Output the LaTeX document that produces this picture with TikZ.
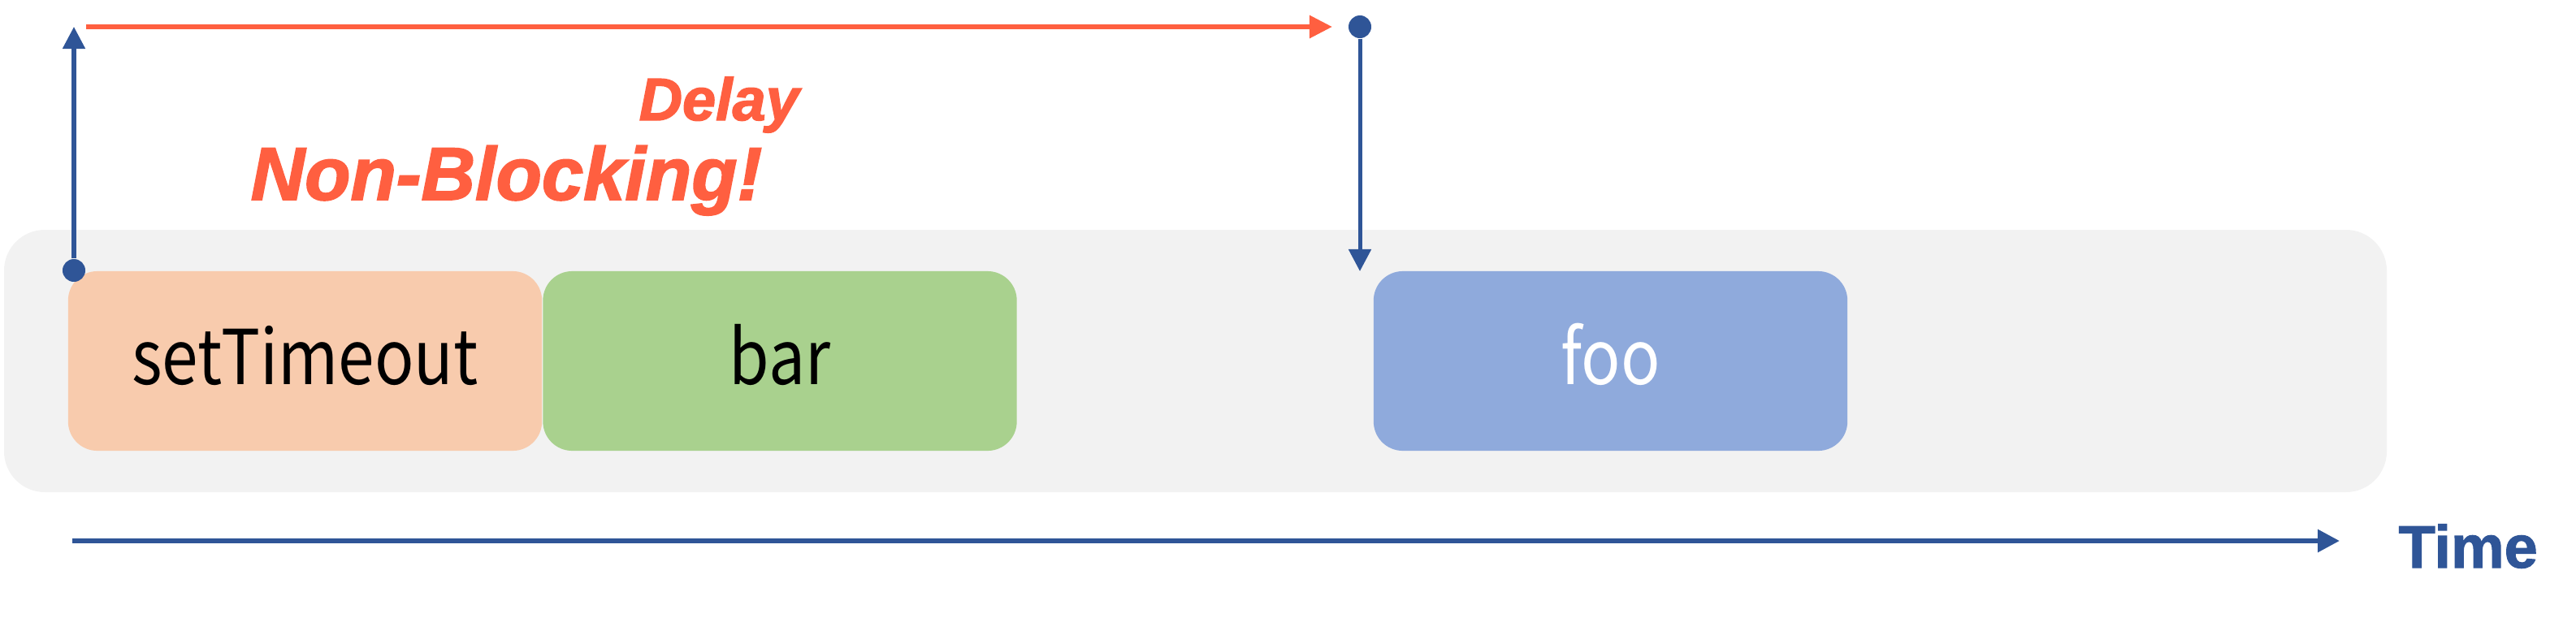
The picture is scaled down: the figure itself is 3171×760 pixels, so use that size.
\documentclass[tikz,border=0pt]{standalone}
\usepackage{fontspec}
\setmainfont{Liberation Sans}
\newfontfamily\boxfont[FakeStretch=0.86]{Noto Sans CJK KR}
\newfontface\heavyitalic[FakeBold=2]{Liberation Sans Bold Italic}
\newfontface\heavyfont[FakeBold=1.5]{Liberation Sans Bold}
\usetikzlibrary{arrows.meta}
\definecolor{delayred}{RGB}{255,95,64}
\definecolor{timeblue}{RGB}{47,85,151}
\definecolor{lanegray}{RGB}{242,242,242}
\definecolor{callorange}{RGB}{248,203,173}
\definecolor{callgreen}{RGB}{169,209,142}
\definecolor{callblue}{RGB}{143,170,220}
\begin{document}
\begin{tikzpicture}[x=0.01cm,y=-0.01cm,
    task/.style={rounded corners=0.36cm, minimum width=5.83cm, minimum height=2.21cm,
      inner sep=0pt, text height=0.57cm, text depth=0cm, font=\boxfont\fontsize{26.5}{30}\selectfont},
    dot/.style={circle, fill=timeblue, inner sep=0pt, minimum size=0.28cm},
    bluearrow/.style={timeblue, line width=0.05cm, -{Triangle[length=0.27cm,width=0.27cm]}},
    redarrow/.style={delayred, line width=0.06cm, -{Triangle[length=0.28cm,width=0.27cm]}}]
  \useasboundingbox (0,0) rectangle (3171,760);
  % call stack lane
  \fill[lanegray, rounded corners=0.5cm] (5,283) rectangle (2938,606);
  \node[task, fill=callorange] (settimeout) at (375.5,444.5) {setTimeout};
  \node[task, fill=callgreen] (bar) at (960,444.5) {bar};
  \node[task, fill=callblue, text=white] (foo) at (1982.5,444.5) {foo};
  % timer
  \node[dot] (start) at (91,333) {};
  \node[dot] (fire) at (1674,33) {};
  \coordinate (uptop) at (91,33);
  \coordinate (delaystart) at (106,33);
  \coordinate (delayend) at (1640,33);
  \coordinate (firebottom) at (1674,334);
  \draw[bluearrow] (start) -- (uptop);
  \draw[redarrow] (delaystart) -- (delayend);
  \draw[bluearrow] (fire) -- (firebottom);
  \node[anchor=base west, inner sep=0pt, text=delayred, font=\heavyitalic\fontsize{21}{24}\selectfont]
    (delay) at (786,148) {Delay};
  \node[anchor=base west, inner sep=0pt, text=delayred, font=\heavyitalic\fontsize{26.2}{30}\selectfont]
    (nonblocking) at (308,246) {Non-Blocking!};
  % time axis
  \coordinate (t0) at (89,666);
  \coordinate (t1) at (2880,666);
  \draw[bluearrow, line width=0.06cm] (t0) -- (t1);
  \node[anchor=base west, inner sep=0pt, text=timeblue, font=\heavyfont\fontsize{21}{24}\selectfont]
    (time) at (2952,699) {Time};
\end{tikzpicture}
\end{document}
